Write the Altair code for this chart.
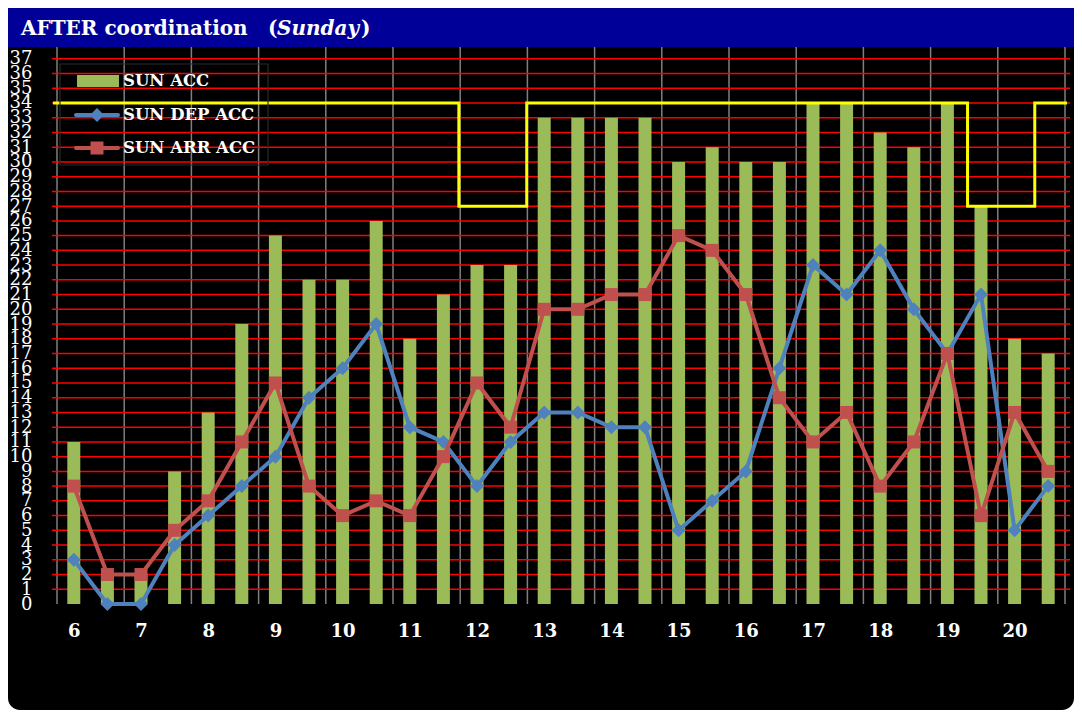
import altair as alt
import pandas as pd

# ---- data ----
slot_hours = [6.0, 6.5, 7.0, 7.5, 8.0, 8.5, 9.0, 9.5, 10.0, 10.5,
              11.0, 11.5, 12.0, 12.5, 13.0, 13.5, 14.0, 14.5, 15.0, 15.5,
              16.0, 16.5, 17.0, 17.5, 18.0, 18.5, 19.0, 19.5, 20.0, 20.5]
sun_acc = [11, 2, 2, 9, 13, 19, 25, 22, 22, 26, 18, 21, 23, 23, 33,
           33, 33, 33, 30, 31, 30, 30, 34, 34, 32, 31, 34, 27, 18, 17]
sun_dep = [3, 0, 0, 4, 6, 8, 10, 14, 16, 19, 12, 11, 8, 11, 13,
           13, 12, 12, 5, 7, 9, 16, 23, 21, 24, 20, 17, 21, 5, 8]
sun_arr = [8, 2, 2, 5, 7, 11, 15, 8, 6, 7, 6, 10, 15, 12, 20,
           20, 21, 21, 25, 24, 21, 14, 11, 13, 8, 11, 17, 6, 13, 9]
hour_labels = [6, 7, 8, 9, 10, 11, 12, 13, 14, 15, 16, 17, 18, 19, 20]
y_ticks = list(range(0, 38))
grid_y = list(range(1, 38))
hour_bounds = [5.75, 6.75, 7.75, 8.75, 9.75, 10.75, 11.75, 12.75, 13.75,
               14.75, 15.75, 16.75, 17.75, 18.75, 19.75, 20.75]
cap_x = [5.69, 11.73, 11.73, 12.74, 12.74, 19.30, 19.30, 20.30, 20.30, 20.78]
cap_y = [34, 34, 27, 27, 34, 34, 27, 27, 34, 34]
series_names = ["SUN ACC", "SUN DEP ACC", "SUN ARR ACC"]

df = pd.DataFrame({"h": slot_hours, "acc": sun_acc, "dep": sun_dep, "arr": sun_arr})
cap_df = pd.DataFrame({"x": cap_x, "y": cap_y, "i": list(range(len(cap_x)))})
vgrid_df = pd.DataFrame({"b": hour_bounds})
hgrid_df = pd.DataFrame({"v": grid_y})
one = pd.DataFrame({"k": [0]})

GREEN = "#9BBB59"
BLUE = "#4F81BD"
RED = "#C0504D"
FONT = "DejaVu Serif"

xscale = alt.Scale(domain=[5.75, 20.75], nice=False, zero=False)
yscale = alt.Scale(domain=[0, 37.8], nice=False, zero=True)
x_axis = alt.Axis(values=hour_labels, format="d", title=None, grid=False,
                  domain=False, ticks=False, tickSize=0, labelFont=FONT,
                  labelFontWeight="bold", labelFontSize=18, labelColor="white",
                  labelPadding=18, labelFlush=False, labelOverlap=False, zindex=2)
y_axis = alt.Axis(values=y_ticks, title=None, grid=False, domain=False,
                  ticks=False, tickSize=0, labelFont=FONT, labelFontSize=18,
                  labelColor="white", labelPadding=20, labelOverlap=False, zindex=2)


def X(field):
    return alt.X(field, type="quantitative", scale=xscale, axis=x_axis)


def Y(field):
    return alt.Y(field, type="quantitative", scale=yscale, axis=y_axis)


card = alt.Chart(one).mark_rect(color="black", cornerRadius=12).encode(
    x=alt.value(-44), x2=alt.value(1022), y=alt.value(-39), y2=alt.value(663))
title_bar = alt.Chart(one).mark_rect(color="#000099").encode(
    x=alt.value(-44), x2=alt.value(1022), y=alt.value(-39), y2=alt.value(0))

vgrid = alt.Chart(vgrid_df).mark_rule(color="#7f7f7f", strokeWidth=1.5).encode(x=X("b"))
hgrid = alt.Chart(hgrid_df).mark_rule(color="#ff0000", strokeWidth=1.5).encode(y=Y("v"))

bars = alt.Chart(df).mark_bar(color=GREEN, size=13).encode(x=X("h"), y=Y("acc"))

cap = alt.Chart(cap_df).mark_line(color="#FFFF00", strokeWidth=3, clip=False).encode(
    x=X("x"), y=Y("y"), order="i:Q")

dep_line = alt.Chart(df).mark_line(color=BLUE, strokeWidth=4).encode(x=X("h"), y=Y("dep"))
dep_pts = alt.Chart(df).mark_point(shape="diamond", filled=True, size=196,
                                   color=BLUE, opacity=1).encode(x=X("h"), y=Y("dep"))
arr_line = alt.Chart(df).mark_line(color=RED, strokeWidth=4).encode(x=X("h"), y=Y("arr"))
arr_pts = alt.Chart(df).mark_point(shape="square", filled=True, size=169,
                                   color=RED, opacity=1).encode(x=X("h"), y=Y("arr"))

# ---- legend (drawn) ----
leg_box = alt.Chart(one).mark_rect(fillOpacity=0, stroke="#2a2a2a", strokeWidth=1.2).encode(
    x=alt.value(8), x2=alt.value(216), y=alt.value(17), y2=alt.value(118))
leg_acc = alt.Chart(one).mark_rect(color=GREEN).encode(
    x=alt.value(25), x2=alt.value(67), y=alt.value(28), y2=alt.value(40))
leg_dep_l = alt.Chart(one).mark_rule(color=BLUE, strokeWidth=4, strokeCap="round").encode(
    x=alt.value(24), x2=alt.value(66), y=alt.value(68))
leg_dep_p = alt.Chart(one).mark_point(shape="diamond", filled=True, size=196, color=BLUE,
                                      opacity=1).encode(x=alt.value(45), y=alt.value(68))
leg_arr_l = alt.Chart(one).mark_rule(color=RED, strokeWidth=4, strokeCap="round").encode(
    x=alt.value(24), x2=alt.value(66), y=alt.value(101))
leg_arr_p = alt.Chart(one).mark_point(shape="square", filled=True, size=169, color=RED,
                                      opacity=1).encode(x=alt.value(45), y=alt.value(101))


def leg_text(txt, y):
    return alt.Chart(one).mark_text(text=txt, font=FONT, fontSize=16.5, fontWeight="bold",
                                    color="white", align="left", baseline="middle").encode(
        x=alt.value(71), y=alt.value(y))


leg_t1 = leg_text(series_names[0], 34)
leg_t2 = leg_text(series_names[1], 68)
leg_t3 = leg_text(series_names[2], 101)

# ---- title ----
t1 = alt.Chart(one).mark_text(text="AFTER coordination", font=FONT, fontSize=20,
                              fontWeight="bold", color="white", align="left",
                              baseline="alphabetic").encode(x=alt.value(-31), y=alt.value(-12))
t2 = alt.Chart(one).mark_text(text="(", font=FONT, fontSize=20, fontWeight="bold",
                              color="white", align="left",
                              baseline="alphabetic").encode(x=alt.value(216), y=alt.value(-12))
t3 = alt.Chart(one).mark_text(text="Sunday", font=FONT, fontSize=20, fontWeight="bold",
                              fontStyle="italic", color="white", align="left",
                              baseline="alphabetic").encode(x=alt.value(225), y=alt.value(-12))
t4 = alt.Chart(one).mark_text(text=")", font=FONT, fontSize=20, fontWeight="bold",
                              color="white", align="left",
                              baseline="alphabetic").encode(x=alt.value(309), y=alt.value(-12))

chart = alt.layer(
    card, title_bar, vgrid, hgrid, bars, cap, dep_line, dep_pts, arr_line, arr_pts,
    leg_box, leg_acc, leg_dep_l, leg_dep_p, leg_arr_l, leg_arr_p, leg_t1, leg_t2, leg_t3,
    t1, t2, t3, t4
).properties(
    width=1018, height=557,
    autosize=alt.AutoSizeParams(type="none"),
    padding={"left": 44, "top": 39, "right": 4, "bottom": 106},
    background="white",
).configure_view(stroke=None)

chart.save("out.html", embed_options={"renderer": "svg", "actions": False})
